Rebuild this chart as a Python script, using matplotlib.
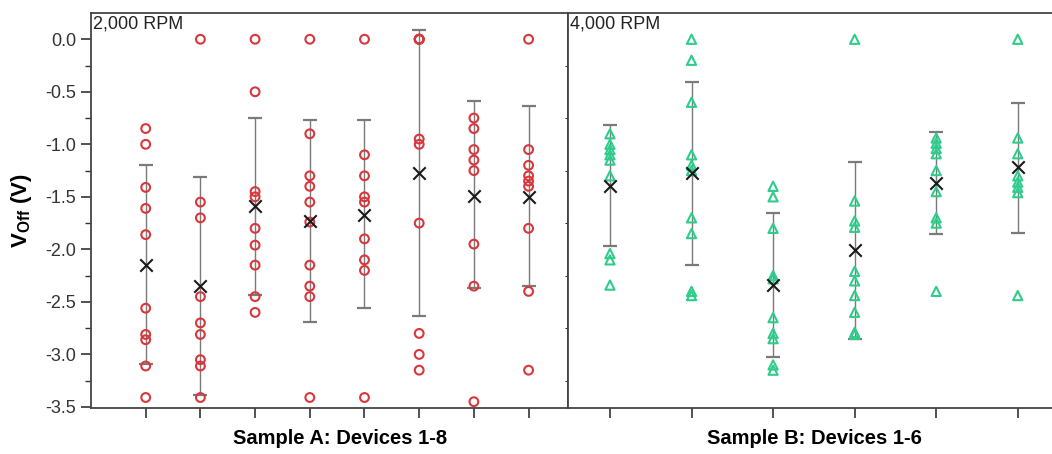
import numpy as np
import matplotlib.pyplot as plt

plt.rcParams['font.family'] = ['Liberation Sans', 'DejaVu Sans']
plt.rcParams['mathtext.fontset'] = 'custom'
plt.rcParams['mathtext.rm'] = 'Liberation Sans'
plt.rcParams['mathtext.bf'] = 'Liberation Sans:bold'

# Sample A (2,000 RPM) - device values in V
sample_a = [
    [-0.85, -1.0, -1.41, -1.61, -1.86, -2.56, -2.81, -2.86, -3.11, -3.41],
    [0.0, -1.55, -1.70, -2.45, -2.70, -2.81, -3.05, -3.11, -3.41],
    [0.0, -0.50, -1.45, -1.50, -1.80, -1.96, -2.15, -2.45, -2.60],
    [0.0, -0.90, -1.30, -1.40, -1.55, -1.74, -2.15, -2.35, -2.45, -3.41],
    [0.0, -1.10, -1.30, -1.50, -1.55, -1.90, -2.10, -2.20, -3.41],
    [0.0, 0.0, 0.0, 0.0, -0.95, -1.00, -1.75, -2.80, -3.00, -3.15],
    [-0.75, -0.85, -1.05, -1.15, -1.25, -1.95, -2.35, -3.45],
    [0.0, -1.05, -1.20, -1.30, -1.35, -1.40, -1.80, -2.40, -3.15],
]
mean_a = [-2.15, -2.35, -1.59, -1.73, -1.67, -1.27, -1.49, -1.50]
top_a = [-1.20, -1.31, -0.75, -0.77, -0.77, 0.09, -0.59, -0.64]
bot_a = [-3.09, -3.39, -2.43, -2.69, -2.56, -2.63, -2.37, -2.35]

# Sample B (4,000 RPM)
sample_b = [
    [-0.90, -1.00, -1.05, -1.10, -1.15, -1.30, -2.04, -2.10, -2.34],
    [0.0, -0.20, -0.60, -1.10, -1.20, -1.25, -1.70, -1.85, -2.40, -2.44],
    [-1.40, -1.50, -1.80, -2.25, -2.28, -2.65, -2.80, -2.85, -3.10, -3.15],
    [0.0, -1.54, -1.73, -1.79, -2.21, -2.30, -2.44, -2.60, -2.79, -2.81],
    [-0.94, -0.99, -1.04, -1.09, -1.25, -1.45, -1.70, -1.75, -2.40],
    [0.0, -0.94, -1.09, -1.30, -1.36, -1.41, -1.46, -2.44],
]
mean_b = [-1.40, -1.27, -2.34, -2.01, -1.37, -1.22]
top_b = [-0.82, -0.41, -1.65, -1.17, -0.88, -0.61]
bot_b = [-1.97, -2.15, -3.02, -2.85, -1.85, -1.84]

red = '#d8373c'
green = '#2fcc8c'

fig = plt.figure(figsize=(10.52, 4.54), dpi=100)
ax1 = fig.add_axes([0.0865, 0.1013, 0.4534, 0.8694])
ax2 = fig.add_axes([0.5399, 0.1013, 0.4601, 0.8694], sharey=ax1)


def draw(ax, data, means, tops, bots, color, marker, size):
    for i, vals in enumerate(data):
        x = i + 1
        m = means[i]
        eb = ax.errorbar([x], [m], yerr=[[m - bots[i]], [tops[i] - m]], fmt='none',
                         ecolor='#7a7a7a', elinewidth=1.0, capsize=5, capthick=1.6,
                         zorder=2)
        for cap in eb.lines[1]:
            cap.set_color('#222222')
        ax.scatter([x] * len(vals), vals, s=size, marker=marker, facecolors='none',
                   edgecolors=color, linewidths=1.5, zorder=3)
        ax.scatter([x], [m], s=80, marker='x', color='#1a1a1a', linewidths=1.5, zorder=4)


draw(ax1, sample_a, mean_a, top_a, bot_a, red, 'o', 40)
draw(ax2, sample_b, mean_b, top_b, bot_b, green, '^', 44)

ax1.set_xlim(0, 8.72)
ax2.set_xlim(0.485, 6.42)
ax1.set_ylim(-3.51, 0.247)

ax1.set_xticks(range(1, 9))
ax2.set_xticks(range(1, 7))
for ax in (ax1, ax2):
    ax.set_xticklabels([])
    ax.tick_params(axis='x', direction='out', length=7, width=1.2, colors='#333333')
    for s in ax.spines.values():
        s.set_linewidth(1.3)
        s.set_color('#444444')

ax2.spines['right'].set_visible(False)
ax2.tick_params(axis='y', left=False, labelleft=False)

ax1.set_yticks(np.arange(-3.5, 0.01, 0.5))
ax1.set_yticks(np.arange(-3.25, 0.01, 0.5), minor=True)
ax1.set_yticklabels([f'{v:.1f}' for v in np.arange(-3.5, 0.01, 0.5)])
ax1.tick_params(axis='y', which='major', direction='out', length=7, width=1.2,
                labelsize=13, colors='#333333', labelcolor='#333333')
ax1.tick_params(axis='y', which='minor', direction='out', length=4, width=1.0,
                colors='#333333')

ax1.set_ylabel(r'$\mathbf{V}_{\mathbf{Off}}$ (V)', fontsize=16, fontweight='bold',
               labelpad=8)

ax1.text(0.004, 0.995, '2,000 RPM', transform=ax1.transAxes, ha='left', va='top',
         fontsize=13, color='#222222')
ax2.text(0.004, 0.995, '4,000 RPM', transform=ax2.transAxes, ha='left', va='top',
         fontsize=13, color='#222222')

ax1.set_xlabel('Sample A: Devices 1-8', fontsize=14.5, fontweight='bold')
ax2.set_xlabel('Sample B: Devices 1-6', fontsize=14.5, fontweight='bold')
ax1.xaxis.set_label_coords(0.523, -0.054, transform=ax1.transAxes)
ax2.xaxis.set_label_coords(0.51, -0.054, transform=ax2.transAxes)
ax1.xaxis.label.set_va('top')
ax2.xaxis.label.set_va('top')

fig.savefig('out.png', dpi=100)
